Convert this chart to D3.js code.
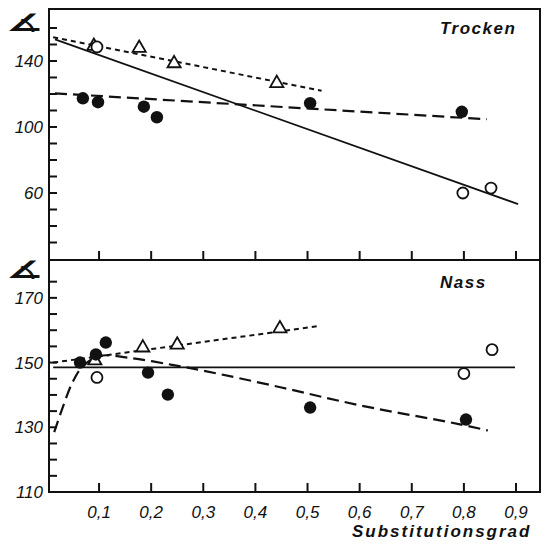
<!DOCTYPE html>
<html>
<head>
<meta charset="utf-8">
<script src="https://cdn.jsdelivr.net/npm/d3@7"></script>
<style>
  body { margin: 0; background: #fff; }
  text { font-family: "Liberation Sans", Arial, sans-serif; fill: #111; }
</style>
</head>
<body>
<div id="chart"></div>
<script>
(function() {

    // Chart size
    var width = 545;
    var height = 551;

    // ---- data: Trocken (upper panel) ----
    var trockenFilled = [[0.069, 117.4], [0.098, 115], [0.186, 112.3], [0.211, 105.9], [0.505, 114.4], [0.796, 109.2]];
    var trockenOpen = [[0.096, 148.5], [0.798, 60], [0.852, 63]];
    var trockenTriangles = [[0.09, 149], [0.177, 147.8], [0.244, 138.5], [0.441, 126.5]];
    var trockenSolid = [[0.0155, 153.1], [0.904, 53.3]];
    var trockenShortDash = [[0.012, 154.4], [0.527, 122]];
    var trockenLongDash = [[0.0155, 120.4], [0.844, 104.7]];

    // ---- data: Nass (lower panel) ----
    var nassFilled = [[0.0635, 150], [0.094, 152.5], [0.113, 156.2], [0.194, 146.9], [0.232, 140.1], [0.505, 136.1], [0.804, 132.4]];
    var nassOpen = [[0.096, 145.4], [0.8, 146.6], [0.854, 154]];
    var nassTriangles = [[0.092, 150.6], [0.184, 154.6], [0.25, 155.5], [0.447, 160.5]];
    var nassSolid = [[0.012, 148.5], [0.898, 148.5]];
    var nassShortDash = [[0.012, 150], [0.518, 161.2]];
    var nassCurve = [[0.014, 128.5], [0.03, 136], [0.048, 143.5], [0.067, 148.5], [0.1, 152], [0.165, 151.3],
                     [0.24, 149.3], [0.3, 147.5], [0.45, 142.3], [0.6, 136.8], [0.79, 131], [0.846, 129]];

    // Tick values and labels
    var xTicks = [0.1, 0.2, 0.3, 0.4, 0.5, 0.6, 0.7, 0.8, 0.9];
    var topTicks = d3.range(30, 161, 10);
    var topLabels = [140, 100, 60];
    var bottomTicks = d3.range(115, 176, 5);
    var bottomLabels = [170, 150, 130, 110];

    var svg = d3.select("#chart")
        .append("svg")
        .attr("width", width)
        .attr("height", height);

    // Scales (frame: x 49..540, top panel 9..260, bottom panel 260..492)
    var x = d3.scaleLinear().domain([0.004, 0.946]).range([49, 540]);
    var yTop = d3.scaleLinear().domain([19.4, 171.5]).range([260, 9]);
    var yBot = d3.scaleLinear().domain([110, 181.7]).range([492, 260]);

    var fmt = function(d) { return d3.format(".1f")(d).replace(".", ","); };

    // Draw one panel
    function panel(y, ticks, labels, bottom, top) {
        var g = svg.append("g");

        // y ticks pointing inward
        g.selectAll(".yt").data(ticks).enter().append("line")
            .attr("x1", 49).attr("x2", 57)
            .attr("y1", d => y(d)).attr("y2", d => y(d))
            .attr("stroke", "#111").attr("stroke-width", 2);

        g.selectAll(".yl").data(labels).enter().append("text")
            .attr("x", 43).attr("y", d => y(d))
            .attr("dy", "0.36em")
            .attr("text-anchor", "end")
            .style("font-size", "17px")
            .style("font-style", "italic")
            .text(d => d);

        // x ticks pointing up from bottom of panel
        g.selectAll(".xt").data(xTicks).enter().append("line")
            .attr("x1", d => x(d)).attr("x2", d => x(d))
            .attr("y1", bottom).attr("y2", bottom - 9)
            .attr("stroke", "#111").attr("stroke-width", 2);

        // angle symbol, stretched to look like the printed one
        g.append("text")
            .attr("transform", "translate(6," + (top + 19) + ") scale(1.7,1)")
            .style("font-family", "DejaVu Sans")
            .style("font-size", "24px")
            .style("font-weight", "bold")
            .text("\u2221");
        return g;
    }

    panel(yTop, topTicks, topLabels, 260, 12);
    panel(yBot, bottomTicks, bottomLabels, 492, 259);

    // Frame and divider
    svg.append("rect")
        .attr("x", 49).attr("y", 9)
        .attr("width", 491).attr("height", 483)
        .attr("fill", "none").attr("stroke", "#111").attr("stroke-width", 2);
    svg.append("line")
        .attr("x1", 49).attr("x2", 540).attr("y1", 260).attr("y2", 260)
        .attr("stroke", "#111").attr("stroke-width", 2);

    // x labels
    svg.selectAll(".xl").data(xTicks).enter().append("text")
        .attr("x", d => x(d)).attr("y", 518)
        .attr("text-anchor", "middle")
        .style("font-size", "17px")
        .style("font-style", "italic")
        .text(fmt);

    svg.append("text")
        .attr("x", 352).attr("y", 537)
        .style("font-size", "17px").style("font-weight", "bold").style("font-style", "italic")
        .style("letter-spacing", "2px")
        .text("Substitutionsgrad");

    svg.append("text")
        .attr("x", 440).attr("y", 34)
        .style("font-size", "17px").style("font-weight", "bold").style("font-style", "italic")
        .style("letter-spacing", "1.5px")
        .text("Trocken");

    svg.append("text")
        .attr("x", 440).attr("y", 288)
        .style("font-size", "17px").style("font-weight", "bold").style("font-style", "italic")
        .style("letter-spacing", "1.5px")
        .text("Nass");

    // Lines and markers
    function lines(y, solid, shortDash, longDash, curve) {
        var line = d3.line().x(d => x(d[0])).y(d => y(d[1]));
        svg.append("path").attr("d", line(solid))
            .attr("fill", "none").attr("stroke", "#111").attr("stroke-width", 1.8);
        svg.append("path").attr("d", line(shortDash))
            .attr("fill", "none").attr("stroke", "#111").attr("stroke-width", 2)
            .attr("stroke-dasharray", "5,4");
        if (longDash) {
            svg.append("path").attr("d", line(longDash))
                .attr("fill", "none").attr("stroke", "#111").attr("stroke-width", 2.2)
                .attr("stroke-dasharray", "12,6");
        }
        if (curve) {
            var cl = d3.line().x(d => x(d[0])).y(d => y(d[1])).curve(d3.curveCatmullRom);
            svg.append("path").attr("d", cl(curve))
                .attr("fill", "none").attr("stroke", "#111").attr("stroke-width", 2.2)
                .attr("stroke-dasharray", "12,6");
        }
    }

    function markers(y, tri, open, filled) {
        var triangle = d3.symbol().type(d3.symbolTriangle).size(75);
        svg.append("g").selectAll("path").data(tri).enter().append("path")
            .attr("d", triangle)
            .attr("transform", d => "translate(" + x(d[0]) + "," + y(d[1]) + ")")
            .attr("fill", "#fff").attr("stroke", "#111").attr("stroke-width", 1.8);
        svg.append("g").selectAll("circle").data(open).enter().append("circle")
            .attr("cx", d => x(d[0])).attr("cy", d => y(d[1])).attr("r", 5.5)
            .attr("fill", "#fff").attr("stroke", "#111").attr("stroke-width", 1.8);
        svg.append("g").selectAll("circle").data(filled).enter().append("circle")
            .attr("cx", d => x(d[0])).attr("cy", d => y(d[1])).attr("r", 6.2)
            .attr("fill", "#111");
    }

    lines(yTop, trockenSolid, trockenShortDash, trockenLongDash, null);
    markers(yTop, trockenTriangles, trockenOpen, trockenFilled);

    lines(yBot, nassSolid, nassShortDash, null, nassCurve);
    markers(yBot, nassTriangles, nassOpen, nassFilled);

})();
</script>
</body>
</html>
